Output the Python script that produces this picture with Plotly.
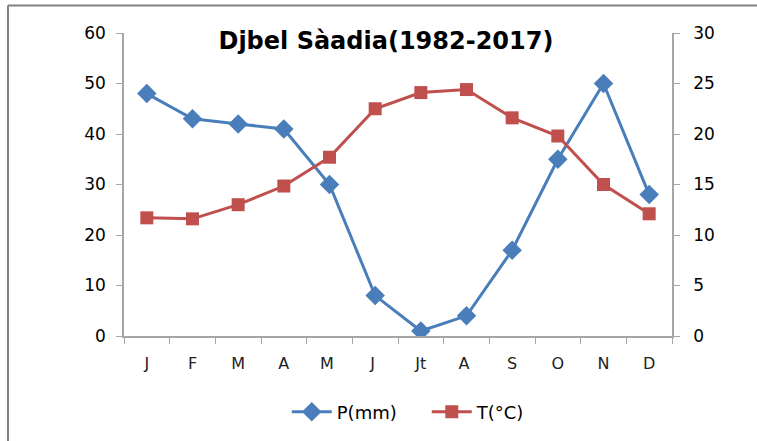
import plotly.graph_objects as go

months = ["J", "F", "M", "A", "M ", "J ", "Jt", "A ", "S", "O", "N", "D"]
precip = [48, 43, 42, 41, 30, 8, 1, 4, 17, 35, 50, 28]
temp = [11.7, 11.6, 13.0, 14.85, 17.7, 22.5, 24.1, 24.4, 21.6, 19.8, 15.0, 12.1]
left_ticks = [0, 10, 20, 30, 40, 50, 60]
right_ticks = [0, 5, 10, 15, 20, 25, 30]

blue = "#4A7EBB"
red = "#C0504D"
axis_col = "#A6A6A6"
FONT = "DejaVu Sans, Liberation Sans, Arial, sans-serif"

fig = go.Figure()
fig.add_trace(go.Scatter(
    x=months, y=precip, name="P(mm)", mode="lines+markers",
    line=dict(color=blue, width=3),
    marker=dict(symbol="diamond", size=15, color=blue),
    yaxis="y"))
fig.add_trace(go.Scatter(
    x=months, y=temp, name="T(°C)", mode="lines+markers",
    line=dict(color=red, width=3),
    marker=dict(symbol="square", size=13, color=red),
    yaxis="y2"))

fig.update_layout(
    width=757, height=441,
    margin=dict(l=124, r=85, t=33, b=104),
    paper_bgcolor="white", plot_bgcolor="white",
    font=dict(family=FONT, color="black"),
    title=dict(text="<b>Djbel Sàadia(1982-2017)</b>", xref="paper", x=0.478, xanchor="center",
               yref="container", y=0.909, yanchor="middle",
               font=dict(size=24, color="black", family=FONT)),
    xaxis=dict(type="category", range=[-0.5, 11.5], showgrid=False,
               showline=True, linecolor=axis_col, linewidth=1.5,
               ticks="outside", tickson="boundaries", ticklen=6, tickcolor=axis_col,
               tickfont=dict(size=16, color="#222"), ticklabelstandoff=12, zeroline=False),
    yaxis=dict(range=[0, 60], tickvals=left_ticks, showgrid=False,
               showline=True, linecolor=axis_col, linewidth=1.5,
               ticks="outside", ticklen=6, tickcolor=axis_col,
               tickfont=dict(size=17), ticklabelstandoff=7, zeroline=False),
    yaxis2=dict(range=[0, 30], tickvals=right_ticks, overlaying="y", side="right",
                showgrid=False, showline=True, linecolor=axis_col, linewidth=1.5,
                ticks="outside", ticklen=6, tickcolor=axis_col,
                tickfont=dict(size=17), ticklabelstandoff=10, zeroline=False),
    legend=dict(orientation="h", x=0.297, xanchor="left", y=-0.247, yanchor="middle",
                font=dict(size=18), entrywidth=85, entrywidthmode="pixels",
                itemwidth=40),
    showlegend=True,
)

fig.add_shape(type="line", xref="paper", yref="paper",
              x0=-0.2117, x1=1.2, y0=1.0905, y1=1.0905,
              line=dict(color="#808080", width=2), layer="below")
fig.add_shape(type="line", xref="paper", yref="paper",
              x0=-0.2117, x1=-0.2117, y0=1.0905, y1=-0.4,
              line=dict(color="#808080", width=2), layer="below")

fig.write_html("out.html", config={"displayModeBar": False},
               post_script="document.body.style.margin='0';document.body.style.overflow='hidden';")
